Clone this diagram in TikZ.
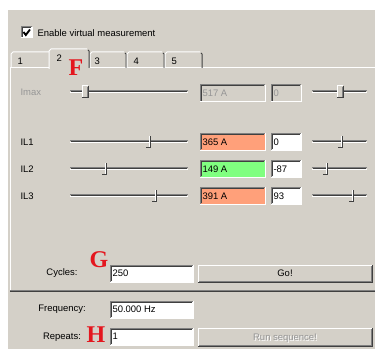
\documentclass[tikz,border=0pt]{standalone}
\usepackage{fontspec}
\setmainfont{Liberation Sans}
\newfontfamily\markfont{Liberation Serif}

\definecolor{panelgray}{RGB}{212,208,200}
\definecolor{edgedark}{RGB}{64,64,64}
\definecolor{edgemid}{RGB}{128,128,128}
\definecolor{salmonfill}{RGB}{255,160,122}
\definecolor{greenfill}{RGB}{128,255,128}
\definecolor{markred}{RGB}{228,22,30}
\definecolor{greytext}{RGB}{150,150,150}

% sunken edit field: x1, y1, x2, y2, fill
\newcommand{\editfield}[5]{%
  \fill[#5] (#1,#2) rectangle (#3,#4);
  \draw[edgemid] (#1,#4) -- (#1,#2) -- (#3,#2);
  \draw[edgedark] (#1+1,#4-1) -- (#1+1,#2+1) -- (#3-1,#2+1);
  \draw[white] (#1,#4) -- (#3,#4) -- (#3,#2);
}
% raised push button: x1, y1, x2, y2
\newcommand{\pushbutton}[4]{%
  \fill[panelgray] (#1,#2) rectangle (#3,#4);
  \draw[white] (#1,#4) -- (#1,#2) -- (#3,#2);
  \draw[edgedark] (#1,#4) -- (#3,#4) -- (#3,#2);
  \draw[edgemid] (#1+1,#4-1) -- (#3-1,#4-1) -- (#3-1,#2+1);
}
% slider groove: x1, x2, y
\newcommand{\groove}[3]{%
  \draw[edgemid] (#1,#3-1) -- (#2,#3-1);
  \draw[edgedark] (#1+1,#3) -- (#2-1,#3);
  \draw[white] (#1,#3+1) -- (#2,#3+1);
}
% slider pointer: x, y
\newcommand{\pointer}[2]{%
  \draw[white] (#1-1,#2-6) -- (#1-1,#2+5);
  \draw[edgedark] (#1-4,#2+6) -- (#1,#2+6) -- (#1,#2-6);
}
% slider block thumb: x, y
\newcommand{\blockthumb}[2]{%
  \fill[panelgray] (#1-3,#2-6) rectangle (#1+3,#2+6);
  \draw[white] (#1-3,#2+6) -- (#1-3,#2-6) -- (#1+3,#2-6);
  \draw[edgedark] (#1-3,#2+6) -- (#1+3,#2+6) -- (#1+3,#2-6);
  \draw[edgemid] (#1+2,#2+5) -- (#1+2,#2-5);
}

\begin{document}
\begin{tikzpicture}[x=0.75pt,y=0.75pt,yscale=-1,xscale=1,line width=0.75pt,
  guitext/.style={anchor=west,inner sep=0pt,text height=5.1pt,text depth=0pt,font=\fontsize{7.1}{8}\selectfont},
  greyed/.style={guitext,text=greytext},
  centred/.style={guitext,anchor=center},
  markletter/.style={inner sep=0pt,text=markred,font=\markfont\bfseries\fontsize{18}{18}\selectfont}]
\useasboundingbox (0,0) rectangle (375,349);

%Shape: Window background
\fill[white] (0,0) rectangle (375,349);
\fill[panelgray] (8,10) rectangle (375,349);

%Shape: Checkbox
\editfield{21}{27}{32}{38}{white}
\draw[line width=1.4pt] (23.5,32) -- (25.8,35) -- (30,29.5);
% Text Node
\node[guitext] (enable) at (37,33) {Enable virtual measurement};

%Shape: Tab sheet border
\draw[white] (10,290) -- (10,68) -- (49,68);
\draw[white] (89,68) -- (375,68);
\draw[edgemid] (10,290) -- (375,290);
\draw[edgedark] (10,291.5) -- (375,291.5);

%Shape: Tabs
\draw[white] (11,68) -- (11,54) -- (13,52) -- (49,52);
\foreach \xa/\xb in {89/126,126/164,164/202}{
  \draw[white] (\xa+1,68) -- (\xa+1,54) -- (\xa+3,52) -- (\xb-2,52);
  \draw[edgedark] (\xb-1,53) -- (\xb,54) -- (\xb,68);
}
\fill[panelgray] (49,49) rectangle (89,69);
\draw[white] (49,69) -- (49,51) -- (51,49) -- (87,49);
\draw[edgedark] (88,50) -- (89,51) -- (89,68);
% Text Node
\node[guitext] (tab1) at (17,61) {1};
\node[guitext] (tab2) at (56,58) {2};
\foreach \xt/\lab in {94/3,133/4,171/5}{
  \node[guitext] (tab\lab) at (\xt,61) {\lab};
}

%Shape: Imax row
\node[greyed] (imaxlabel) at (20,92) {Imax};
\groove{70}{188}{92}
\blockthumb{85}{92}
\editfield{200}{85}{265}{102}{panelgray}
\editfield{271}{85}{301}{102}{panelgray}
\node[greyed] (imaxvalue) at (202,93.5) {517 A};
\node[greyed] (imaxphase) at (273,93.5) {0};
\groove{312}{367}{92}
\blockthumb{340}{92}

%Shape: Phase current rows
\foreach \row/\yc/\amps/\tint/\phase/\lt/\rt in {1/142/365 A/salmonfill/0/150/342,
    2/169/149 A/greenfill/-87/106/327,
    3/196/391 A/salmonfill/93/156/353}{
  \node[guitext] (il\row) at (20,\yc) {IL\row};
  \groove{70}{188}{\yc}
  \pointer{\lt}{\yc}
  \editfield{200}{\yc-8.5}{265}{\yc+8.5}{\tint}
  \editfield{271}{\yc-8.5}{301}{\yc+8.5}{white}
  \node[guitext] (amps\row) at (202,\yc) {\amps};
  \node[guitext] (phase\row) at (273,\yc) {\phase};
  \groove{312}{367}{\yc}
  \pointer{\rt}{\yc}
}

%Shape: Cycles
\node[centred] (cycles) at (62,272) {Cycles:};
\editfield{110}{265}{193}{282}{white}
\node[guitext] (cyclesvalue) at (112,273.5) {250};
\pushbutton{198}{265}{372}{282}
\node[centred] (go) at (285,273.5) {Go!};

%Shape: Sequence
\node[centred] (frequency) at (62,308.5) {Frequency:};
\editfield{110}{301}{193}{318}{white}
\node[guitext] (freqvalue) at (112,309.5) {50.000 Hz};
\node[centred] (repeats) at (62,336) {Repeats:};
\editfield{110}{328}{193}{345}{white}
\node[guitext] (repvalue) at (112,336.5) {1};
\pushbutton{198}{328}{372}{346}
\node[centred,text=white] (runshadow) at (286,338) {Run sequence!};
\node[centred,text=greytext] (run) at (285,337) {Run sequence!};

% Text Node
\node[markletter] (markF) at (76,68) {F};
\node[markletter] (markG) at (99,260) {G};
\node[markletter] (markH) at (96,335) {H};

\end{tikzpicture}
\end{document}
